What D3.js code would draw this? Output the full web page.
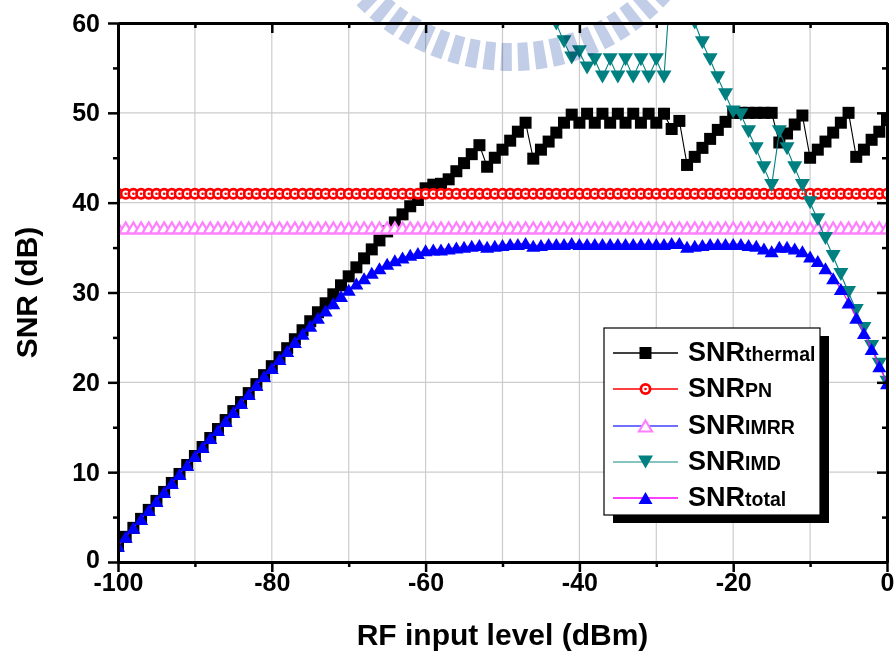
<!DOCTYPE html>
<html><head><meta charset="utf-8">
<script src="https://cdn.jsdelivr.net/npm/d3@7"></script>
<style>
body{margin:0;background:#fff}
svg{display:block}
text{font-family:"Liberation Sans",Arial,sans-serif;font-weight:bold;fill:#000}
</style>
</head><body>
<svg id="c" width="894" height="655"></svg>
<script>
// ---------------- data ----------------
const inputLevels = [
-100,-99,-98,-97,-96,-95,-94,-93,-92,-91,
-90,-89,-88,-87,-86,-85,-84,-83,-82,-81,
-80,-79,-78,-77,-76,-75,-74,-73,-72,-71,
-70,-69,-68,-67,-66,-65,-64,-63,-62,-61,
-60,-59,-58,-57,-56,-55,-54,-53,-52,-51,
-50,-49,-48,-47,-46,-45,-44,-43,-42,-41,
-40,-39,-38,-37,-36,-35,-34,-33,-32,-31,
-30,-29,-28,-27,-26,-25,-24,-23,-22,-21,
-20,-19,-18,-17,-16,-15,-14,-13,-12,-11,
-10,-9,-8,-7,-6,-5,-4,-3,-2,-1,0];

const snrThermal = [
1.8,2.8,3.8,4.8,5.8,6.8,7.8,8.8,9.8,10.8,
11.8,12.8,13.8,14.8,15.8,16.8,17.8,18.8,19.8,20.8,
21.8,22.8,23.8,24.8,25.8,26.8,27.8,28.8,29.8,30.8,
31.8,32.8,33.8,34.8,35.8,36.8,37.8,38.7,39.6,40.3,
41.6,42.0,42.1,42.6,43.5,44.4,45.4,46.4,44.0,45.0,
45.9,46.9,47.9,48.9,44.9,45.9,46.8,47.8,48.9,49.8,
48.9,49.9,48.9,49.9,48.9,49.9,48.9,49.9,48.9,49.9,
48.9,49.9,48.2,49.1,44.2,45.1,46.1,47.1,48.1,49.0,
50.0,50.0,50.0,50.0,50.0,50.0,46.7,47.7,48.7,49.7,
45.0,45.9,46.8,47.8,48.9,50.0,45.1,45.9,47.0,47.9,49.2];

const snrPN = [
41,41,41,41,41,41,41,41,41,41,
41,41,41,41,41,41,41,41,41,41,
41,41,41,41,41,41,41,41,41,41,
41,41,41,41,41,41,41,41,41,41,
41,41,41,41,41,41,41,41,41,41,
41,41,41,41,41,41,41,41,41,41,
41,41,41,41,41,41,41,41,41,41,
41,41,41,41,41,41,41,41,41,41,
41,41,41,41,41,41,41,41,41,41,
41,41,41,41,41,41,41,41,41,41,41];

const snrIMRR = [
37.2,37.2,37.2,37.2,37.2,37.2,37.2,37.2,37.2,37.2,
37.2,37.2,37.2,37.2,37.2,37.2,37.2,37.2,37.2,37.2,
37.2,37.2,37.2,37.2,37.2,37.2,37.2,37.2,37.2,37.2,
37.2,37.2,37.2,37.2,37.2,37.2,37.2,37.2,37.2,37.2,
37.2,37.2,37.2,37.2,37.2,37.2,37.2,37.2,37.2,37.2,
37.2,37.2,37.2,37.2,37.2,37.2,37.2,37.2,37.2,37.2,
37.2,37.2,37.2,37.2,37.2,37.2,37.2,37.2,37.2,37.2,
37.2,37.2,37.2,37.2,37.2,37.2,37.2,37.2,37.2,37.2,
37.2,37.2,37.2,37.2,37.2,37.2,37.2,37.2,37.2,37.2,
37.2,37.2,37.2,37.2,37.2,37.2,37.2,37.2,37.2,37.2,37.2];

const imdInputLevels = [
-44,-43,-42,-41,-40,-39,-38,-37,-36,-35,
-34,-33,-32,-31,-30,-29,-28,-27,-26,-25,
-24,-23,-22,-21,-20,-19,-18,-17,-16,-15,
-14,-13,-12,-11,-10,-9,-8,-7,-6,-5,
-4,-3,-2,-1,0];
const snrIMD = [
62.0,59.9,57.9,56.1,56.8,55.0,55.9,54.0,55.9,54.0,
55.9,54.0,55.9,54.0,55.9,54.0,66.0,64.0,62.0,60.0,
57.8,55.9,53.9,52.0,50.1,49.8,47.9,46.0,43.9,41.9,
47.9,46.0,43.9,41.9,40.0,38.1,36.0,34.0,32.0,30.0,
28.0,26.0,24.0,22.0,20.0];

const snrTotal = [
1.8,2.8,3.8,4.8,5.8,6.8,7.8,8.8,9.8,10.8,
11.8,12.8,13.8,14.7,15.7,16.7,17.7,18.7,19.7,20.7,
21.6,22.6,23.5,24.5,25.4,26.3,27.2,28.0,28.8,29.6,
30.3,31.0,31.6,32.2,32.7,33.2,33.6,33.9,34.2,34.4,
34.7,34.8,34.8,34.9,35.0,35.1,35.2,35.3,35.1,35.2,
35.3,35.4,35.4,35.5,35.2,35.3,35.4,35.4,35.4,35.5,
35.4,35.4,35.4,35.4,35.4,35.4,35.4,35.4,35.4,35.4,
35.4,35.4,35.5,35.5,35.1,35.2,35.3,35.4,35.4,35.4,
35.4,35.4,35.3,35.2,34.9,34.6,35.1,35.1,34.9,34.6,
34.0,33.5,32.7,31.6,30.4,28.9,27.2,25.5,23.7,21.8,19.9];

const xTicksMajor = [-100,-80,-60,-40,-20,0];
const xTicksMinor = [-90,-70,-50,-30,-10];
const yTicksMajor = [0,10,20,30,40,50,60];
const yTicksMinor = [5,15,25,35,45,55];
const legendMain = ["SNR","SNR","SNR","SNR","SNR"];
const legendSub = ["thermal","PN","IMRR","IMD","total"];
const xTitle = "RF input level (dBm)";
const yTitle = "SNR (dB)";

// ---------------- layout ----------------
const svg = d3.select("#c");
const P = {l:118, r:887, t:23, b:562};
const x = d3.scaleLinear().domain([-100,0]).range([P.l,P.r]);
const y = d3.scaleLinear().domain([0,60]).range([P.b,P.t]);

// grid
const grid = svg.append("g").attr("stroke","#cccccc").attr("stroke-width",1.2);
grid.selectAll("line.gx").data(xTicksMajor.concat(xTicksMinor).filter(v=>v>-100&&v<0)).join("line")
  .attr("x1",d=>x(d)).attr("x2",d=>x(d)).attr("y1",P.t).attr("y2",P.b);
grid.selectAll("line.gy").data(yTicksMajor.filter(v=>v>0&&v<60)).join("line")
  .attr("x1",P.l).attr("x2",P.r).attr("y1",d=>y(d)).attr("y2",d=>y(d));

// clip
svg.append("clipPath").attr("id","pc").append("rect")
  .attr("x",P.l).attr("y",P.t).attr("width",P.r-P.l).attr("height",P.b-P.t);
const data = svg.append("g").attr("clip-path","url(#pc)");

// marker shapes
function triPath(w,h,down){
  return down ? `M${-w/2},${-h/2}L${w/2},${-h/2}L0,${h/2}Z` : `M0,${-h/2}L${w/2},${h/2}L${-w/2},${h/2}Z`;
}
const markers = {
  square: (g)=>g.append("rect").attr("x",-6).attr("y",-6).attr("width",12).attr("height",12).attr("fill","#000"),
  circle: (g)=>{g.append("circle").attr("r",4.6).attr("fill","#fff").attr("stroke","#ff0000").attr("stroke-width",2.8);
               g.append("circle").attr("r",1.3).attr("fill","#ff0000");},
  triOpen: (g)=>g.append("path").attr("d",triPath(13,11,false)).attr("fill","#fff").attr("stroke","#ff80ff").attr("stroke-width",2.2),
  triDown: (g)=>g.append("path").attr("d",triPath(15,13,true)).attr("fill","#008080"),
  triUp: (g)=>g.append("path").attr("d",triPath(14,12,false)).attr("fill","#0000ff")
};

const series = [
  {xs:inputLevels, ys:snrThermal, line:"#000000", marker:"square"},
  {xs:inputLevels, ys:snrPN, line:"#ff0000", marker:"circle"},
  {xs:inputLevels, ys:snrIMRR, line:"#0000ff", marker:"triOpen"},
  {xs:imdInputLevels, ys:snrIMD, line:"#008080", marker:"triDown"},
  {xs:inputLevels, ys:snrTotal, line:"#ff00ff", marker:"triUp"}
];

const lineGen = d3.line().x(d=>x(d[0])).y(d=>y(d[1]));
series.forEach(s=>{
  const pts = s.xs.map((v,i)=>[v,s.ys[i]]);
  const g = data.append("g");
  g.append("path").attr("d",lineGen(pts)).attr("fill","none").attr("stroke",s.line).attr("stroke-width",1.1);
  pts.forEach(p=>{
    const m = g.append("g").attr("transform",`translate(${x(p[0])},${y(p[1])})`);
    markers[s.marker](m);
  });
});

// axes
function styleAxis(g){
  g.select(".domain").attr("stroke","#000").attr("stroke-width",3);
  g.selectAll(".tick line").attr("stroke","#000").attr("stroke-width",2.5);
  g.selectAll(".tick text").style("font-size","25px").attr("fill","#000");
}
const fmt = d=>String(d);
svg.append("g").attr("transform",`translate(0,${P.b})`)
  .call(d3.axisBottom(x).tickValues(xTicksMinor).tickSize(5).tickSizeOuter(0).tickFormat("")).call(styleAxis);
svg.append("g").attr("transform",`translate(0,${P.b})`)
  .call(d3.axisBottom(x).tickValues(xTicksMajor).tickSize(10).tickSizeOuter(0).tickPadding(1).tickFormat(fmt)).call(styleAxis);
svg.append("g").attr("transform",`translate(0,${P.t})`)
  .call(d3.axisTop(x).tickValues(xTicksMinor).tickSizeInner(-5).tickSizeOuter(0).tickFormat("")).call(styleAxis);
svg.append("g").attr("transform",`translate(0,${P.t})`)
  .call(d3.axisTop(x).tickValues(xTicksMajor).tickSizeInner(-10).tickSizeOuter(0).tickFormat("")).call(styleAxis);
svg.append("g").attr("transform",`translate(${P.l},0)`)
  .call(d3.axisLeft(y).tickValues(yTicksMinor).tickSize(5).tickSizeOuter(0).tickFormat("")).call(styleAxis);
svg.append("g").attr("transform",`translate(${P.l},0)`)
  .call(d3.axisLeft(y).tickValues(yTicksMajor).tickSize(10).tickSizeOuter(0).tickPadding(8).tickFormat(fmt)).call(styleAxis);
svg.append("g").attr("transform",`translate(${P.r},0)`)
  .call(d3.axisRight(y).tickValues(yTicksMinor).tickSizeInner(-5).tickSizeOuter(0).tickFormat("")).call(styleAxis);
svg.append("g").attr("transform",`translate(${P.r},0)`)
  .call(d3.axisRight(y).tickValues(yTicksMajor).tickSizeInner(-10).tickSizeOuter(0).tickFormat("")).call(styleAxis);
// lift the bottom-left "0" a touch so it clears "-100"
svg.selectAll("g.tick").filter(function(){return d3.select(this).text()==="0" && +d3.select(this).attr("transform").match(/,([\d.]+)\)/)[1]>550;})
  .select("text").attr("dy","0.2em");

// watermark (decorative logo fragment at top)
const wm = svg.append("g").attr("transform","translate(511,-143)")
  .style("mix-blend-mode","multiply").attr("opacity",0.75);
const wmArc = d3.arc().innerRadius(186).outerRadius(214);
d3.range(-19,20).forEach(k=>{
  const a = Math.PI + 0.023 + k*0.084;
  wm.append("path").attr("d",wmArc({startAngle:a-0.027,endAngle:a+0.027})).attr("fill","#aebddf");
});

// titles
svg.append("text").attr("x",(P.l+P.r)/2).attr("y",645).attr("text-anchor","middle")
  .style("font-size","30px").text(xTitle);
svg.append("text").attr("transform",`translate(37,${(P.t+P.b)/2}) rotate(-90)`).attr("text-anchor","middle")
  .style("font-size","30px").text(yTitle);

// legend
const L = {x:604, y:328, w:216, h:187};
const lg = svg.append("g");
lg.append("rect").attr("x",L.x+9).attr("y",L.y+8).attr("width",L.w).attr("height",L.h).attr("fill","#000");
lg.append("rect").attr("x",L.x).attr("y",L.y).attr("width",L.w).attr("height",L.h).attr("fill","#fff")
  .attr("stroke","#000").attr("stroke-width",1.2);
const rowY = [353,389,426,462,498];
const legendLineColors = ["#000000","#ff0000","#4040ff","#5fb0ac","#ff00ff"];
series.forEach((s,i)=>{
  const ry = rowY[i];
  lg.append("line").attr("x1",613).attr("x2",678).attr("y1",ry).attr("y2",ry)
    .attr("stroke",legendLineColors[i]).attr("stroke-width",1.3);
  const m = lg.append("g").attr("transform",`translate(645.5,${ry})`);
  markers[s.marker](m);
  const t = lg.append("text").attr("x",688).attr("y",ry+8);
  t.append("tspan").style("font-size","27px").text(legendMain[i]);
  t.append("tspan").style("font-size","19.5px").text(legendSub[i]);
});
</script>
</body></html>
